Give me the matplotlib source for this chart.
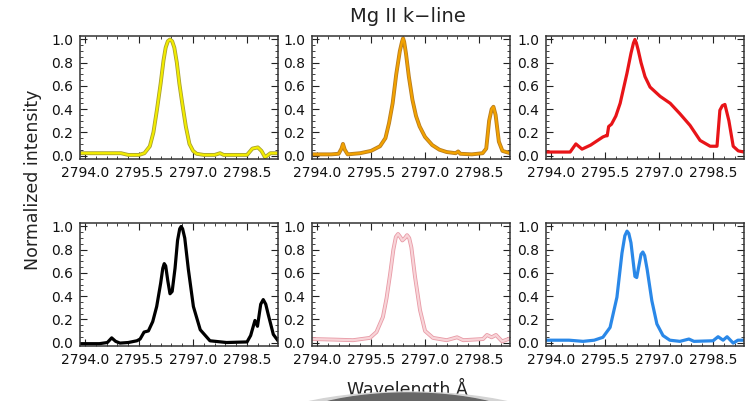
import numpy as np
import matplotlib.pyplot as plt
import matplotlib.patheffects as pe
from matplotlib.patches import Ellipse
from matplotlib.ticker import FixedLocator, MultipleLocator, AutoMinorLocator

# wavelength / normalized intensity
wl_yellow = [2793.86, 2794.5, 2795.0, 2795.2, 2795.5, 2795.65, 2795.8, 2795.9, 2796.0, 2796.1,
             2796.18, 2796.24, 2796.3, 2796.36, 2796.42, 2796.48, 2796.55, 2796.62, 2796.7, 2796.8,
             2796.9, 2797.0, 2797.1, 2797.3, 2797.6, 2797.75, 2797.85, 2798.0, 2798.5, 2798.65,
             2798.8, 2798.9, 2799.0, 2799.15, 2799.36]
i_yellow = [0.02, 0.02, 0.02, 0.005, 0.005, 0.02, 0.08, 0.2, 0.4, 0.62,
            0.82, 0.93, 0.985, 1.0, 0.985, 0.93, 0.8, 0.62, 0.45, 0.25,
            0.1, 0.04, 0.015, 0.005, 0.005, 0.02, 0.005, 0.005, 0.005, 0.06,
            0.07, 0.04, -0.015, 0.02, 0.02]

wl_orange = [2793.86, 2794.4, 2794.6, 2794.68, 2794.72, 2794.77, 2794.85, 2795.2, 2795.5, 2795.75,
             2795.9, 2796.0, 2796.1, 2796.2, 2796.3, 2796.36, 2796.39, 2796.42, 2796.47, 2796.55,
             2796.65, 2796.75, 2796.85, 2797.0, 2797.2, 2797.4, 2797.6, 2797.85, 2797.92, 2797.98,
             2798.3, 2798.6, 2798.7, 2798.78, 2798.85, 2798.9, 2798.96, 2799.05, 2799.15, 2799.36]
i_orange = [0.01, 0.01, 0.015, 0.06, 0.1, 0.05, 0.01, 0.02, 0.04, 0.08,
            0.15, 0.28, 0.45, 0.7, 0.9, 0.98, 1.01, 0.98, 0.88, 0.68,
            0.48, 0.34, 0.25, 0.16, 0.09, 0.05, 0.03, 0.02, 0.035, 0.015,
            0.01, 0.02, 0.06, 0.3, 0.4, 0.42, 0.35, 0.12, 0.04, 0.02]

wl_red = [2793.86, 2794.53, 2794.69, 2794.86, 2795.1, 2795.44, 2795.52, 2795.56, 2795.6, 2795.68,
          2795.8, 2795.92, 2796.11, 2796.22, 2796.29, 2796.33, 2796.37, 2796.42, 2796.5, 2796.61,
          2796.75, 2797.03, 2797.31, 2797.58, 2797.86, 2798.14, 2798.42, 2798.61, 2798.69, 2798.76,
          2798.83, 2798.94, 2799.06, 2799.2, 2799.36]
i_red = [0.03, 0.03, 0.1, 0.055, 0.09, 0.16, 0.17, 0.17, 0.25, 0.27,
         0.34, 0.45, 0.71, 0.88, 0.97, 1.0, 0.97, 0.91, 0.8, 0.68,
         0.59, 0.51, 0.45, 0.36, 0.26, 0.13, 0.08, 0.08, 0.39, 0.43,
         0.44, 0.3, 0.08, 0.04, 0.03]

wl_black = [2793.86, 2794.4, 2794.62, 2794.74, 2794.85, 2794.97, 2795.2, 2795.44, 2795.53, 2795.64,
            2795.76, 2795.88, 2795.99, 2796.1, 2796.16, 2796.2, 2796.24, 2796.3, 2796.36, 2796.42,
            2796.5, 2796.57, 2796.63, 2796.67, 2796.71, 2796.77, 2796.87, 2797.01, 2797.2, 2797.47,
            2797.93, 2798.5, 2798.6, 2798.72, 2798.79, 2798.88, 2798.95, 2799.02, 2799.09, 2799.23,
            2799.36]
i_black = [-0.01, -0.01, 0.0, 0.04, 0.01, -0.005, 0.0, 0.015, 0.03, 0.09,
           0.1, 0.18, 0.31, 0.51, 0.64, 0.68, 0.66, 0.53, 0.42, 0.44,
           0.64, 0.88, 0.98, 1.0, 0.98, 0.9, 0.63, 0.31, 0.11, 0.015,
           0.0, 0.005, 0.06, 0.19, 0.14, 0.33, 0.37, 0.33, 0.24, 0.07,
           0.015]

wl_pink = [2793.86, 2794.5, 2795.0, 2795.47, 2795.65, 2795.83, 2795.93, 2796.03, 2796.12, 2796.19,
           2796.25, 2796.31, 2796.37, 2796.44, 2796.5, 2796.56, 2796.62, 2796.72, 2796.86, 2797.0,
           2797.22, 2797.6, 2797.89, 2798.06, 2798.61, 2798.72, 2798.85, 2798.97, 2799.14, 2799.36]
i_pink = [0.03, 0.025, 0.02, 0.04, 0.09, 0.22, 0.38, 0.59, 0.8, 0.91,
          0.935, 0.91, 0.88, 0.9, 0.925, 0.9, 0.82, 0.57, 0.28, 0.1,
          0.04, 0.02, 0.045, 0.02, 0.03, 0.065, 0.045, 0.065, 0.01, 0.035]

wl_blue = [2793.86, 2794.5, 2794.89, 2795.2, 2795.44, 2795.64, 2795.83, 2795.97, 2796.05, 2796.11,
           2796.16, 2796.22, 2796.33, 2796.38, 2796.44, 2796.5, 2796.55, 2796.6, 2796.67, 2796.8,
           2796.94, 2797.11, 2797.3, 2797.58, 2797.83, 2797.97, 2798.5, 2798.64, 2798.78, 2798.89,
           2799.06, 2799.19, 2799.36]
i_blue = [0.02, 0.02, 0.01, 0.02, 0.045, 0.13, 0.39, 0.77, 0.92, 0.96,
          0.94, 0.86, 0.57, 0.56, 0.66, 0.76, 0.78, 0.75, 0.63, 0.36,
          0.16, 0.06, 0.02, 0.01, 0.03, 0.01, 0.015, 0.05, 0.02, 0.05,
          -0.005, 0.02, 0.02]

x_ticks = [2794.0, 2795.5, 2797.0, 2798.5]

panels = [
    (wl_yellow, i_yellow, '#f2ec00', '#a8a030'),
    (wl_orange, i_orange, '#f2a200', '#b87c20'),
    (wl_red, i_red, '#e81418', None),
    (wl_black, i_black, '#000000', None),
    (wl_pink, i_pink, '#f8d4d8', '#e89aa6'),
    (wl_blue, i_blue, '#2a88e8', None),
]

W, H = 749, 401
fig = plt.figure(figsize=(W / 100, H / 100), dpi=100)
cols = [80, 312, 546]
rows = [36, 223]
pw, ph = 198, 123

for k, (wl, inten, col, edge) in enumerate(panels):
    r, c = divmod(k, 3)
    ax = fig.add_axes([cols[c] / W, 1 - (rows[r] + ph) / H, pw / W, ph / H])
    if edge is not None:
        ax.plot(wl, inten, color=col, lw=1.6, solid_joinstyle='round',
                path_effects=[pe.Stroke(linewidth=2.8, foreground=edge), pe.Normal()])
    else:
        ax.plot(wl, inten, color=col, lw=2.3, solid_joinstyle='round')
    ax.set_xlim(2793.86, 2799.36)
    ax.set_ylim(-0.03, 1.03)
    ax.xaxis.set_major_locator(FixedLocator(x_ticks))
    ax.xaxis.set_minor_locator(FixedLocator(np.arange(2793.7, 2799.5, 0.3)))
    ax.yaxis.set_major_locator(MultipleLocator(0.2))
    ax.yaxis.set_minor_locator(AutoMinorLocator(4))
    ax.xaxis.set_major_formatter(plt.FormatStrFormatter('%.1f'))
    ax.yaxis.set_major_formatter(plt.FormatStrFormatter('%.1f'))
    ax.tick_params(which='both', direction='in', top=True, right=True, colors='#222222',
                   labelcolor='#111111', labelsize=10)
    ax.tick_params(which='major', length=5, width=0.8, pad=5)
    ax.tick_params(which='minor', length=2.5, width=0.6)
    for s in ax.spines.values():
        s.set_linewidth(1.1)
        s.set_color('#333333')

fig.text(408 / W, 1 - 17 / H, 'Mg II k\u2212line', ha='center', va='center',
         fontsize=14, color='#222222')
fig.text(33 / W, 1 - 180 / H, 'Normalized intensity', ha='center', va='center',
         rotation=90, fontsize=12.5, color='#222222')
fig.text(407 / W, 1 - 388 / H, 'Wavelength \u00c5', ha='center', va='center',
         fontsize=12.5, color='#222222')

# grey blob at the bottom edge of the screenshot
fig.patches.append(Ellipse((408 / W, 1 - 440 / H), 330 / W, 96 / H,
                           transform=fig.transFigure, color='#d4d4d4', zorder=5))
fig.patches.append(Ellipse((408 / W, 1 - 433 / H), 260 / W, 80 / H,
                           transform=fig.transFigure, color='#666666', zorder=6))

fig.savefig('out.png', dpi=100)
